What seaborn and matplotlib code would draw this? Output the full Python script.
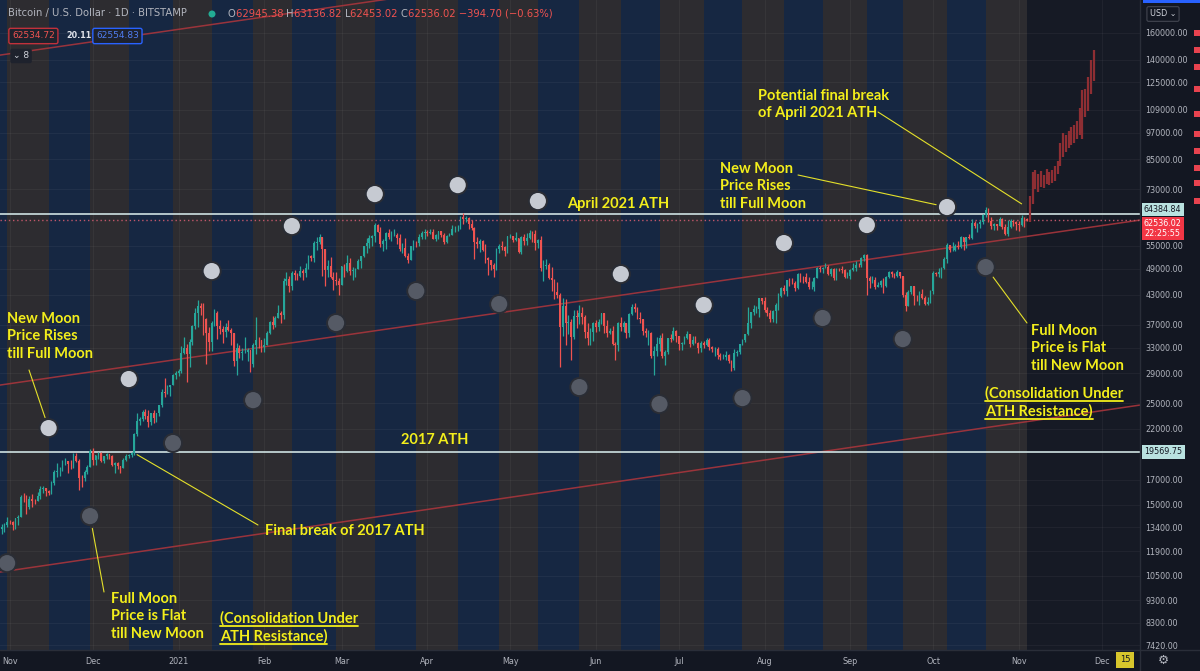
import numpy as np
import pandas as pd
import matplotlib
matplotlib.use("Agg")
import matplotlib.pyplot as plt
import matplotlib.dates as mdates
import matplotlib.transforms as mtransforms
from matplotlib.lines import Line2D
from matplotlib.patches import Rectangle
import seaborn as sns

# ---- daily BTC/USD candles (BITSTAMP), thousands of USD, first bar 2020-10-29 ----
first_day = "2020-10-29"
first_open_k = 13.27
close_k = [
    13.45, 13.56, 13.80,
    # nov 2020
    13.75, 13.56, 14.03, 14.15, 15.59, 15.58, 14.83, 15.48, 15.33, 15.30, 15.70, 16.28, 16.33, 16.07, 15.96,
    16.73, 17.65, 17.80, 17.82, 18.68, 18.70, 18.42, 18.37, 19.16, 18.73, 17.15, 17.14, 17.72, 18.18, 19.70,
    # dec
    18.79, 19.22, 19.45, 18.70, 19.15, 19.36, 19.17, 18.32, 18.55, 18.25, 18.04, 18.80, 19.17, 19.27, 19.44,
    21.38, 22.80, 23.13, 23.86, 23.48, 22.74, 23.82, 23.24, 23.73, 24.71, 26.49, 26.28, 27.08, 27.36, 28.84, 29.00,
    # jan 2021
    29.37, 32.13, 32.98, 31.97, 33.99, 36.82, 39.37, 40.67, 40.24, 38.18, 35.55, 33.92, 37.32, 39.19, 36.83,
    36.18, 35.79, 36.63, 36.07, 35.47, 30.83, 33.00, 32.08, 32.26, 32.37, 32.57, 30.43, 33.47, 34.32, 34.27, 33.11,
    # feb
    33.52, 35.51, 37.47, 36.93, 38.29, 39.26, 38.90, 46.20, 46.48, 44.92, 47.91, 47.50, 47.18, 48.58,
    47.94, 49.20, 52.15, 51.68, 55.89, 56.10, 57.54, 54.20, 48.82, 49.71, 47.05, 46.34, 46.19, 45.14,
    # mar
    49.63, 48.38, 50.54, 48.37, 48.76, 48.88, 50.97, 52.39, 54.88, 55.86, 57.33, 57.80, 61.18, 59.00, 55.64,
    56.47, 58.60, 57.59, 58.05, 58.09, 57.35, 54.08, 54.34, 52.30, 51.30, 55.03, 55.86, 55.78, 57.63, 58.73, 58.92,
    # apr
    58.76, 59.05, 57.05, 58.20, 59.13, 57.99, 56.02, 57.83, 58.08, 59.77, 59.79, 59.99, 63.50, 62.95, 63.28,
    61.40, 60.03, 56.18, 55.65, 56.42, 53.79, 51.70, 51.15, 50.05, 49.06, 54.02, 55.03, 54.82, 53.56, 57.75,
    # may
    57.83, 56.63, 57.20, 53.33, 57.42, 56.40, 57.35, 58.80, 58.23, 55.86, 56.70, 49.15, 49.70, 49.88, 46.76,
    46.43, 43.54, 42.90, 36.70, 40.78, 37.30, 37.53, 34.77, 38.70, 38.40, 39.29, 38.56, 35.68, 34.62, 35.68, 37.34,
    # jun
    36.69, 37.57, 39.19, 36.85, 35.52, 35.80, 33.55, 33.40, 37.39, 36.68, 37.31, 35.55, 39.02, 40.52, 40.14,
    38.34, 38.05, 35.82, 35.48, 35.60, 31.68, 32.51, 33.68, 34.66, 31.59, 32.25, 34.66, 34.48, 35.87, 35.04,
    # jul
    33.54, 33.80, 34.67, 35.29, 33.69, 34.22, 33.86, 32.88, 33.81, 33.51, 34.26, 33.09, 32.73, 32.82, 31.78,
    31.42, 31.52, 31.78, 30.84, 29.79, 32.14, 32.31, 33.58, 34.29, 35.38, 37.27, 39.46, 40.00, 40.01, 42.24, 41.63,
    # aug
    39.97, 39.20, 38.15, 39.74, 40.87, 42.83, 44.61, 43.82, 46.29, 45.59, 45.55, 44.43, 47.83, 47.10, 47.02,
    45.94, 44.69, 44.71, 46.76, 49.34, 48.90, 49.32, 49.55, 47.71, 48.99, 46.85, 49.08, 48.90, 48.81, 46.99, 47.17,
    # sep
    48.85, 49.28, 50.03, 49.94, 51.77, 52.66, 46.86, 46.07, 46.37, 44.85, 45.16, 46.06, 44.96, 47.09, 48.15,
    47.76, 47.30, 48.31, 47.26, 43.00, 40.69, 43.57, 44.88, 42.83, 42.72, 43.21, 42.24, 41.03, 41.54, 43.79,
    # oct
    48.12, 47.71, 48.20, 49.11, 51.51, 55.36, 53.81, 53.97, 54.96, 54.66, 57.47, 56.00, 57.37, 57.32, 61.67,
    60.88, 61.53, 62.01, 64.28, 66.00, 62.21, 60.69, 61.29, 60.86, 63.08, 60.33, 58.45, 60.59, 62.25, 61.89, 61.32,
    # nov 2021
    61.00, 63.23, 62.95, 62.536,
]
high_k = [
    13.64, 13.68, 14.10,
    13.89, 13.82, 14.07, 14.24, 15.77, 15.95, 15.76, 15.65, 15.84, 15.48, 15.97, 16.48, 16.48, 16.33, 16.15,
    16.88, 17.85, 18.47, 18.12, 18.81, 18.96, 18.73, 18.77, 19.42, 19.48, 18.92, 17.47, 17.89, 18.35, 19.86,
    19.92, 19.30, 19.58, 19.51, 19.18, 19.42, 19.41, 19.29, 18.64, 18.56, 18.27, 18.94, 19.40, 19.34, 19.56,
    21.56, 23.77, 23.28, 24.17, 24.29, 24.10, 23.84, 24.09, 23.78, 24.77, 26.86, 28.38, 27.40, 27.39, 28.99, 29.30,
    29.66, 33.30, 34.78, 33.60, 34.44, 36.96, 40.19, 41.95, 41.36, 41.38, 38.29, 36.62, 37.80, 40.10, 39.72,
    37.90, 36.85, 37.35, 37.85, 36.41, 35.60, 33.79, 33.45, 32.90, 34.80, 32.89, 32.60, 33.80, 38.53, 34.90, 34.32,
    34.67, 35.90, 37.65, 38.67, 38.75, 40.95, 39.68, 46.75, 48.14, 47.22, 48.60, 48.80, 48.08, 49.70,
    49.00, 50.54, 52.52, 52.50, 56.28, 57.50, 58.35, 57.60, 54.20, 51.30, 52.00, 48.35, 48.30, 46.70,
    49.80, 50.22, 52.60, 51.75, 49.40, 49.20, 51.40, 52.40, 54.90, 57.20, 58.05, 58.00, 61.68, 61.50, 60.50,
    56.90, 58.90, 60.00, 59.40, 59.80, 58.60, 58.40, 55.80, 57.10, 53.20, 55.10, 56.60, 56.50, 58.40, 59.40, 59.80,
    59.50, 60.00, 59.80, 58.50, 59.20, 59.40, 58.60, 58.10, 58.80, 61.20, 60.70, 61.10, 63.74, 64.90, 63.80,
    63.50, 62.50, 60.40, 57.50, 57.00, 56.70, 55.40, 52.10, 51.20, 50.50, 54.30, 55.40, 56.40, 55.10, 57.90,
    58.40, 57.90, 58.90, 57.20, 57.90, 58.30, 58.60, 59.50, 59.20, 59.50, 57.00, 57.90, 51.30, 51.50, 50.50,
    49.50, 46.60, 45.80, 43.50, 42.40, 42.20, 38.80, 38.20, 39.80, 39.80, 40.80, 40.40, 38.90, 37.30, 36.40, 37.50,
    37.90, 38.20, 39.30, 39.30, 37.90, 36.40, 36.80, 34.00, 37.50, 38.40, 37.70, 37.40, 39.30, 41.00, 41.30,
    40.50, 39.50, 38.20, 36.40, 36.10, 35.70, 33.30, 34.80, 35.20, 35.50, 32.70, 34.70, 35.30, 36.60, 36.00,
    35.00, 33.90, 35.00, 35.90, 35.30, 35.00, 35.00, 33.90, 34.10, 34.20, 34.60, 34.70, 33.30, 33.10, 33.20,
    32.20, 31.90, 32.40, 31.90, 31.00, 32.80, 32.60, 33.60, 34.50, 35.40, 40.50, 39.50, 40.90, 40.60, 42.30, 42.40,
    42.60, 40.50, 39.80, 39.90, 41.40, 43.40, 44.70, 45.30, 46.40, 46.70, 46.70, 46.20, 47.90, 48.10, 47.30,
    48.00, 47.10, 46.00, 47.00, 49.40, 49.80, 49.50, 50.50, 49.90, 49.30, 49.10, 49.20, 49.30, 49.60, 48.90, 48.20,
    49.00, 50.40, 51.00, 50.50, 51.90, 52.90, 52.90, 47.30, 47.30, 47.00, 45.90, 46.40, 46.80, 47.20, 48.40,
    48.50, 48.10, 48.80, 48.30, 47.30, 43.60, 44.00, 44.90, 45.00, 42.90, 43.90, 44.30, 42.80, 42.60, 44.10,
    48.40, 48.30, 49.20, 49.50, 51.90, 55.70, 55.30, 56.10, 55.50, 56.50, 57.80, 57.60, 57.60, 58.50, 62.90,
    62.30, 61.70, 62.60, 64.40, 67.00, 66.60, 63.70, 61.70, 61.50, 63.70, 63.30, 61.50, 62.50, 62.90, 62.10, 62.40,
    62.40, 64.30, 63.50, 63.137,
]
low_k = [
    12.99, 13.12, 13.42,
    13.62, 13.20, 13.29, 13.53, 14.09, 15.20, 14.34, 14.70, 14.81, 15.09, 15.28, 15.44, 15.95, 15.71, 15.79,
    15.87, 16.56, 17.21, 17.35, 17.77, 18.35, 17.62, 18.00, 18.05, 18.60, 16.19, 16.44, 16.88, 17.55, 18.18,
    18.33, 18.34, 18.87, 18.60, 18.52, 18.86, 18.91, 18.20, 17.63, 17.92, 17.56, 18.03, 18.72, 19.00, 19.05,
    19.29, 21.24, 22.35, 22.80, 23.07, 22.22, 22.35, 22.66, 22.70, 23.44, 24.50, 25.81, 26.10, 25.88, 27.32, 28.19,
    28.62, 29.03, 32.00, 27.73, 29.91, 33.40, 36.30, 36.57, 38.80, 35.11, 30.42, 32.53, 32.40, 36.75, 34.41,
    35.36, 33.85, 34.76, 35.90, 33.40, 30.07, 28.80, 31.40, 31.00, 32.10, 30.86, 29.24, 30.00, 31.95, 32.90, 32.30,
    32.30, 33.44, 35.41, 36.20, 36.65, 38.24, 37.39, 38.06, 45.15, 43.73, 44.09, 46.30, 46.32, 47.10,
    46.30, 47.05, 48.90, 50.98, 50.80, 54.00, 55.50, 47.40, 45.00, 47.10, 46.70, 44.15, 45.20, 43.00,
    45.14, 47.10, 48.30, 47.55, 46.30, 47.10, 48.90, 49.30, 51.90, 53.10, 54.30, 55.00, 56.10, 58.90, 54.60,
    53.50, 54.20, 57.00, 56.30, 57.80, 55.50, 53.70, 53.00, 52.00, 50.40, 51.30, 53.90, 54.70, 54.90, 57.00, 57.00,
    57.90, 58.50, 57.00, 56.50, 56.80, 57.40, 55.50, 55.80, 57.70, 58.00, 59.10, 59.40, 60.00, 61.30, 62.10,
    60.00, 59.60, 51.40, 54.30, 53.40, 53.60, 50.50, 47.50, 48.70, 47.00, 48.80, 53.20, 53.90, 52.40, 53.10,
    57.10, 56.00, 56.50, 53.10, 52.90, 55.30, 55.30, 56.90, 56.20, 53.80, 54.50, 48.60, 46.00, 48.90, 46.60,
    43.90, 42.10, 42.30, 30.00, 35.00, 33.50, 35.30, 31.10, 34.40, 36.50, 37.20, 37.20, 34.70, 33.40, 33.40, 34.20,
    35.70, 35.90, 37.20, 35.60, 34.80, 35.30, 33.40, 31.00, 32.40, 35.80, 35.70, 34.70, 34.80, 38.80, 39.50,
    38.10, 37.40, 35.20, 34.80, 33.40, 31.30, 28.80, 31.70, 32.40, 31.30, 30.20, 32.00, 33.90, 34.30, 34.00,
    32.70, 32.70, 33.60, 34.40, 33.20, 33.50, 33.80, 32.10, 32.30, 33.00, 33.30, 32.70, 32.30, 31.60, 31.20,
    31.10, 31.20, 31.10, 30.50, 29.30, 29.50, 31.70, 32.00, 33.40, 33.90, 35.20, 36.40, 38.80, 39.30, 38.40, 41.00,
    39.50, 38.70, 37.60, 37.50, 37.40, 39.90, 42.50, 43.30, 42.80, 45.00, 45.40, 43.80, 44.20, 45.90, 45.60,
    45.70, 44.40, 44.20, 43.90, 46.70, 48.30, 48.10, 49.10, 47.60, 47.20, 46.30, 46.40, 48.40, 48.00, 46.90, 46.70,
    46.60, 48.60, 48.40, 49.50, 49.50, 50.90, 43.00, 44.50, 45.60, 44.20, 44.80, 44.80, 43.40, 44.70, 46.70,
    47.10, 46.80, 47.00, 46.90, 42.50, 39.60, 40.60, 43.10, 40.90, 41.70, 40.80, 42.10, 40.90, 40.80, 41.40,
    43.30, 47.40, 47.10, 46.90, 49.00, 50.40, 53.40, 53.70, 53.70, 54.10, 54.40, 53.90, 54.30, 56.80, 56.90,
    60.20, 58.90, 60.10, 61.40, 63.50, 62.10, 60.00, 59.70, 59.50, 60.70, 59.90, 58.10, 57.80, 60.30, 60.80, 59.60,
    59.40, 60.70, 60.40, 62.453,
]

# projected bars pattern (dark red), thousands of USD, first bar 2021-11-05
proj_first_day = "2021-11-05"
proj_high_k = [70.5, 79.5, 80.5, 79.0, 80.0, 78.5, 81.0, 79.5, 80.5, 82.0, 84.0, 92.0,
               97.0, 96.0, 98.0, 100.0, 101.0, 103.0, 110.0, 120.0, 121.0, 128.0, 140.0, 147.0]
proj_low_k = [62.0, 68.0, 73.0, 72.0, 74.0, 73.5, 75.0, 74.5, 75.5, 76.0, 79.0, 82.0,
              86.0, 88.0, 90.0, 91.0, 92.0, 94.0, 96.0, 94.0, 105.0, 108.0, 118.0, 126.0]
# half-hidden red price tags of the projection at the right edge of the scale
proj_axis_tags = [160000, 147000, 134900, 120800, 106700, 96600, 88700, 81100, 75300, 68800]

# moon phases
new_moons = ["2020-10-16", "2020-11-15", "2020-12-14", "2021-01-13", "2021-02-11", "2021-03-13", "2021-04-12",
             "2021-05-11", "2021-06-10", "2021-07-10", "2021-08-08", "2021-09-07", "2021-10-06", "2021-11-04"]
full_moons = ["2020-10-31", "2020-11-30", "2020-12-30", "2021-01-28", "2021-02-27", "2021-03-28", "2021-04-27",
              "2021-05-26", "2021-06-24", "2021-07-24", "2021-08-22", "2021-09-20", "2021-10-20"]
# marker prices of the moon circles (new moons from 2020-11-15 to 2021-10-06)
new_moon_marks = [22050, 28200, 48470, 60750, 71320, 74600, 68870, 47750, 40880, 55780, 61060, 66830]
full_moon_marks = [11200, 14180, 20460, 25370, 37350, 43850, 41080, 27090, 24870, 25630, 38300, 34460, 49450]

ath_2017 = 19569.75
ath_2021 = 64384.84
last_price = 62536.02

# parallel channel (start, end) prices at the left / right edge of the chart
channel_upper = (27360, 62600)
channel_lower = (10710, 24750)
channel_top = (143200, 327000)

price_ticks = [7420, 8300, 9300, 10500, 11900, 13400, 15000, 17000, 22000, 25000, 29000, 33000,
               37000, 43000, 49000, 55000, 73000, 85000, 97000, 109000, 125000, 140000, 160000]
month_ticks = ["2020-11-01", "2020-12-01", "2021-01-01", "2021-02-01", "2021-03-01", "2021-04-01", "2021-05-01",
               "2021-06-01", "2021-07-01", "2021-08-01", "2021-09-01", "2021-10-01", "2021-11-01", "2021-12-01"]
month_labels = ["Nov", "Dec", "2021", "Feb", "Mar", "Apr", "May", "Jun", "Jul", "Aug", "Sep", "Oct", "Nov", "Dec"]

# ---------------------------------------------------------------------------
BG = "#131722"
BLUE = "#162742"
GREY = "#2d2c30"
UP, DOWN = "#26a69a", "#ef5350"
YEL = "#f3ee1b"
AXTXT = "#b2b5be"
W, H = 1200, 671

sns.set_theme(style="dark", rc={"figure.facecolor": BG, "axes.facecolor": "#161a25",
                                "axes.edgecolor": BG, "savefig.facecolor": BG})
plt.rcParams["font.family"] = ["DejaVu Sans"]

fig = plt.figure(figsize=(W / 100, H / 100), dpi=100)
ax = fig.add_axes([0, 21 / H, 1140 / W, 650 / H])
ax.set_yscale("log")
x0 = mdates.date2num(pd.Timestamp("2020-10-28 10:00"))
x1 = x0 + 412.4
ax.set_xlim(x0, x1)
ax.set_ylim(7244, 188800)

# moon-phase background
nm = mdates.date2num(pd.to_datetime(new_moons))
fm = mdates.date2num(pd.to_datetime(full_moons))
for i in range(len(fm)):
    ax.axvspan(nm[i], fm[i], color=BLUE, lw=0, zorder=0)
    ax.axvspan(fm[i], nm[i + 1], color=GREY, lw=0, zorder=0)

# grid
for p in price_ticks:
    ax.axhline(p, color="white", alpha=0.045, lw=0.8, zorder=0.5)
mt = mdates.date2num(pd.to_datetime(month_ticks))
for m in mt:
    ax.axvline(m, color="white", alpha=0.045, lw=0.8, zorder=0.5)

# channel lines
for a, b in (channel_upper, channel_lower, channel_top):
    ax.plot([x0, x1], [a, b], color="#a8353c", lw=1.1, alpha=0.9, zorder=1.5)

# horizontal levels
ax.axhline(ath_2021, color="#cfe2e2", lw=1.2, zorder=2)
ax.axhline(ath_2017, color="#cfe2e2", lw=1.2, zorder=2)
ax.axhline(last_price, color="#c0576a", lw=1.0, ls=(0, (1, 2)), zorder=2)

# candles
days = mdates.date2num(pd.date_range(first_day, periods=len(close_k), freq="D"))
c = np.array(close_k) * 1000
o = np.r_[first_open_k, close_k[:-1]] * 1000
hi = np.maximum(np.array(high_k) * 1000, np.maximum(o, c))
lo = np.minimum(np.array(low_k) * 1000, np.minimum(o, c))
cols = np.where(c >= o, UP, DOWN)
ax.vlines(days, lo, hi, colors=cols, lw=0.9, zorder=3)
ax.bar(days, np.abs(c - o) + 1, bottom=np.minimum(o, c), width=0.62, color=cols, lw=0, zorder=3)

# projection bars
pdays = mdates.date2num(pd.date_range(proj_first_day, periods=len(proj_high_k), freq="D"))
ax.vlines(pdays, np.array(proj_low_k) * 1000, np.array(proj_high_k) * 1000,
          colors="#8e2e33", lw=1.6, zorder=3)

# moon circles
moons = pd.DataFrame({
    "day": np.r_[nm[1:-1], fm],
    "price": new_moon_marks + full_moon_marks,
    "phase": ["new"] * len(new_moon_marks) + ["full"] * len(full_moon_marks),
})
sns.scatterplot(data=moons, x="day", y="price", hue="phase",
                palette={"new": "#c6cad2", "full": "#555a65"}, s=170,
                edgecolor="#2a2d35", linewidth=1.4, legend=False, ax=ax, zorder=4)

# axes styling
ax.set_xlabel("")
ax.set_ylabel("")
ax.grid(False)
ax.yaxis.tick_right()
ax.set_yticks(price_ticks)
ax.set_yticklabels([f"{p:.2f}" for p in price_ticks])
ax.yaxis.set_minor_locator(matplotlib.ticker.NullLocator())
ax.set_xticks(mt)
ax.set_xticklabels(month_labels)
ax.tick_params(axis="y", length=0, pad=4, labelsize=5.8, labelcolor=AXTXT)
ax.tick_params(axis="x", length=0, pad=5, labelsize=5.8, labelcolor=AXTXT)
for s in ax.spines.values():
    s.set_visible(False)
fig.add_artist(Line2D([1140 / W, 1140 / W], [0, 1], color="#2a2e39", lw=1))
fig.add_artist(Line2D([0, 1], [21 / H, 21 / H], color="#2a2e39", lw=1))

# price labels on the axis
tr = mtransforms.blended_transform_factory(ax.transAxes, ax.transData)
for p in proj_axis_tags:
    ax.add_patch(Rectangle((1.047, p * 0.985), 0.006, p * 0.03, transform=tr, fc="#e8434f", ec="none",
                           clip_on=False, zorder=6))
ax.annotate("64384.84", xy=(1.0, ath_2021), xycoords=tr, xytext=(4, 5), textcoords="offset pixels",
            fontsize=5.8, color=BG, va="center", ha="left",
            bbox=dict(boxstyle="square,pad=0.3", fc="#b9e2e0", ec="none"), annotation_clip=False, zorder=6)
ax.text(1.004, ath_2017, "19569.75", transform=tr, fontsize=5.8, color=BG, va="center", ha="left",
        bbox=dict(boxstyle="square,pad=0.3", fc="#b9e2e0", ec="none"), clip_on=False, zorder=6)
ax.annotate("62536.02\n22:25:55", xy=(1.0, last_price), xycoords=tr, xytext=(4, 1),
            textcoords="offset pixels", fontsize=5.8, color="white", va="top", ha="left",
            linespacing=1.1, bbox=dict(boxstyle="square,pad=0.3", fc="#f23645", ec="none"),
            annotation_clip=False, zorder=7)

# ---- annotations ----
def fxy(px, py):
    return px / W, 1 - py / H

ann = dict(color=YEL, fontsize=10.5, fontweight="bold", family=["Lato", "DejaVu Sans"],
           va="top", ha="left", linespacing=1.3)
texts = [
    ((7, 312), "New Moon\nPrice Rises\ntill Full Moon"),
    ((111, 592), "Full Moon\nPrice is Flat\ntill New Moon"),
    ((720, 162), "New Moon\nPrice Rises\ntill Full Moon"),
    ((758, 89), "Potential final break\nof April 2021 ATH"),
    ((1031, 324), "Full Moon\nPrice is Flat\ntill New Moon"),
    ((265, 524), "Final break of 2017 ATH"),
    ((401, 433), "2017 ATH"),
    ((567, 197), "April 2021 ATH"),
]
for (px, py), s in texts:
    fig.text(*fxy(px, py), s, **ann)

renderer = fig.canvas.get_renderer()
for px, py in ((220, 611), (985, 386)):
    for k, s in enumerate(["(Consolidation Under", "ATH Resistance)"]):
        t = fig.text(*fxy(px, py + k * 18), s, **ann)
        bb = t.get_window_extent(renderer)
        fig.add_artist(Line2D([bb.x0 / W, bb.x1 / W], [(bb.y0 - 0.5) / H] * 2, color=YEL, lw=1.3))

# connectors: text anchor (pixels) -> chart target (date, price)
connectors = [
    ((29, 370), ("2020-11-15", new_moon_marks[0]), 8),
    ((104, 592), ("2020-11-30", full_moon_marks[1]), 9),
    ((258, 525), ("2020-12-17", 19300), 0),
    ((798, 175), ("2021-10-06", new_moon_marks[-1]), 8),
    ((878, 112), ("2021-11-02", 67900), 0),
    ((1027, 323), ("2021-10-20", full_moon_marks[-1]), 9),
]
for (px, py), (d, p), shrink in connectors:
    ax.annotate("", xy=(mdates.date2num(pd.Timestamp(d)), p), xycoords="data",
                xytext=fxy(px, py), textcoords="figure fraction",
                arrowprops=dict(arrowstyle="-", color="#e4e02a", lw=0.8, shrinkA=0, shrinkB=shrink),
                zorder=5)

# ---- header ----
def chain(px, py, parts, size=7.2):
    x = px
    for s, col in parts:
        t = fig.text(x / W, 1 - py / H, s, color=col, fontsize=size, va="center", ha="left")
        x += t.get_window_extent(renderer).width

chain(8, 13, [("Bitcoin / U.S. Dollar · 1D · BITSTAMP", AXTXT)])
fig.patches.append(matplotlib.patches.Circle((212, H - 14), 3.5, transform=None, fc="#22ab94", ec="none"))
chain(228, 14, [("O", AXTXT), ("62945.38 ", DOWN), ("H", AXTXT), ("63136.82 ", DOWN), ("L", AXTXT),
                ("62453.02 ", DOWN), ("C", AXTXT), ("62536.02 −394.70 (−0.63%)", DOWN)])
fig.text(12 / W, 1 - 36 / H, "62534.72", color=DOWN, fontsize=6.5, va="center", ha="left",
         bbox=dict(boxstyle="round,pad=0.35,rounding_size=0.2", fc="#1e222d", ec="#c2313b", lw=1))
fig.text(66 / W, 1 - 36 / H, "20.11", color="#e0e3eb", fontsize=5.8, fontweight="bold", va="center", ha="left")
fig.text(96 / W, 1 - 36 / H, "62554.83", color="#4f7cf0", fontsize=6.5, va="center", ha="left",
         bbox=dict(boxstyle="round,pad=0.35,rounding_size=0.2", fc="#1e222d", ec="#2962ff", lw=1))
fig.text(13 / W, 1 - 56 / H, "⌄ 8", color="#d1d4dc", fontsize=6.5, va="center", ha="left",
         bbox=dict(boxstyle="round,pad=0.3,rounding_size=0.2", fc="#1e222d", ec="none"))

# top-right widgets (the scale's top value peeks out from behind the currency button)
fig.patches.append(Rectangle((1143 / W, 1 - 3 / H), 57 / W, 3 / H, transform=fig.transFigure, fc="#2962ff", ec="none"))
fig.text(1146 / W, 1 - 12 / H, "1", color=AXTXT, fontsize=5.8, va="center", ha="left")
fig.text(1163 / W, 1 - 14 / H, "USD ⌄", color="#d1d4dc", fontsize=5.8, va="center", ha="center",
         bbox=dict(boxstyle="round,pad=0.35,rounding_size=0.2", fc=BG, ec="#434651", lw=0.8))

# bottom-right widgets
fig.text(1125 / W, 1 - 660 / H, "15", color="#131722", fontsize=6, va="center", ha="center",
         bbox=dict(boxstyle="square,pad=0.45", fc="#d8c62c", ec="none"))
fig.text(1163 / W, 1 - 660 / H, "⚙", color=AXTXT, fontsize=9, va="center", ha="center")

fig.savefig("out.png", dpi=100)
